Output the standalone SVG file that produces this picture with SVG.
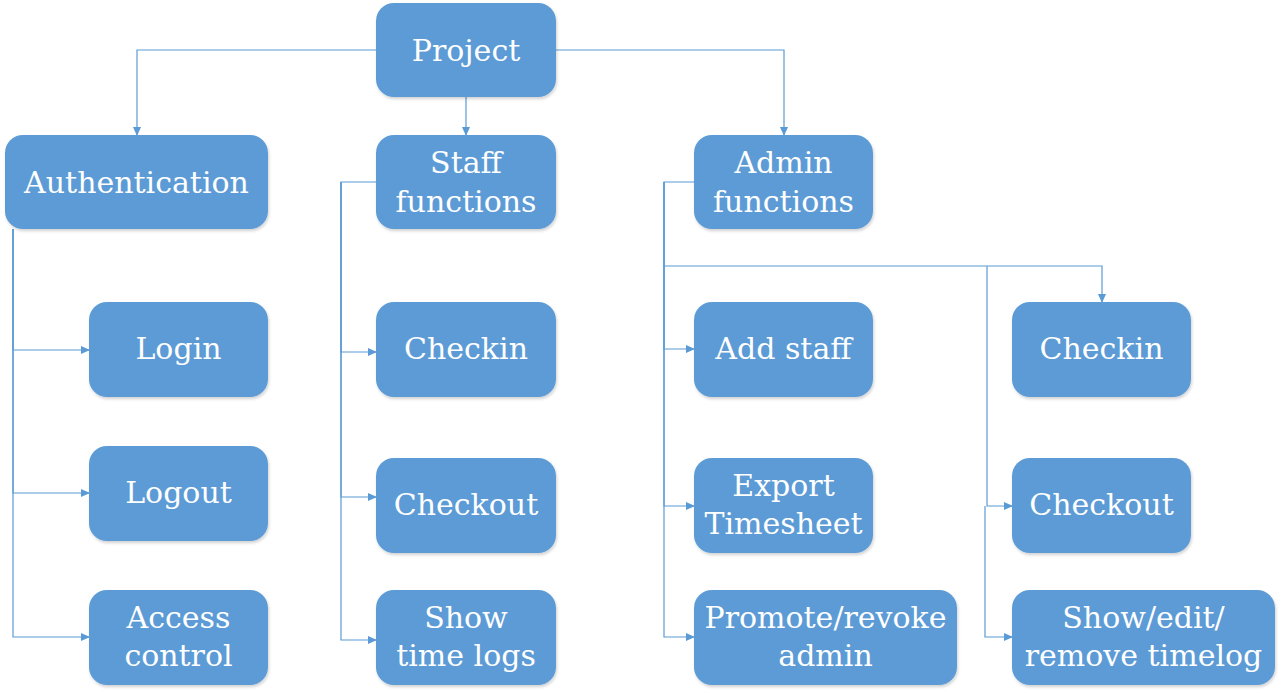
<svg xmlns="http://www.w3.org/2000/svg" width="1281" height="693" viewBox="0 0 1281 693">
<style>
.box{fill:#5B9BD5;filter:url(#sh)}
.t{font-family:"DejaVu Serif",serif;font-size:30px;fill:#fff;text-anchor:middle}
.c{fill:none;stroke:#5B9BD5;stroke-width:1.2;marker-end:url(#ah)}
</style>
<defs>
<filter id="sh" x="-10%" y="-10%" width="120%" height="130%">
<feDropShadow dx="1" dy="2" stdDeviation="1.5" flood-color="#000" flood-opacity="0.18"/>
</filter>
<marker id="ah" markerWidth="9" markerHeight="8" refX="8" refY="4" orient="auto" markerUnits="userSpaceOnUse">
<path d="M0,0 L9,4 L0,8 Z" fill="#5B9BD5"/>
</marker>
</defs>
<rect width="1281" height="693" fill="#fff"/>
<g id="connectors">
<path class="c" d="M376,50 H137 V135"/>
<path class="c" d="M466,97 V135"/>
<path class="c" d="M556,50 H784 V135"/>
<path class="c" d="M13,229 V350 H89"/>
<path class="c" d="M13,229 V493 H89"/>
<path class="c" d="M13,229 V637 H89"/>
<path class="c" d="M376,182 H341 V352 H376"/>
<path class="c" d="M341,182 V497 H376"/>
<path class="c" d="M341,182 V640 H376"/>
<path class="c" d="M694,182 H664 V349 H694"/>
<path class="c" d="M664,182 V506 H694"/>
<path class="c" d="M664,182 V637 H694"/>
<path class="c" d="M664,266 H1102 V302"/>
<path class="c" d="M987,266 V506 H1012"/>
<path class="c" d="M985,506 V637 H1012"/>
</g>
<g id="project"><rect class="box" x="376" y="3" width="180" height="94" rx="18"/><text class="t" x="466" y="61">Project</text></g>
<g id="authentication"><rect class="box" x="5" y="135" width="263" height="94" rx="18"/><text class="t" x="136.5" y="193">Authentication</text></g>
<g id="staff"><rect class="box" x="376" y="135" width="180" height="94" rx="18"/><text class="t" x="466" y="173">Staff</text><text class="t" x="466" y="212">functions</text></g>
<g id="admin"><rect class="box" x="694" y="135" width="179" height="94" rx="18"/><text class="t" x="783.5" y="173">Admin</text><text class="t" x="783.5" y="212">functions</text></g>
<g id="login"><rect class="box" x="89" y="302" width="179" height="95" rx="18"/><text class="t" x="178.5" y="359">Login</text></g>
<g id="logout"><rect class="box" x="89" y="446" width="179" height="95" rx="18"/><text class="t" x="178.5" y="503">Logout</text></g>
<g id="access"><rect class="box" x="89" y="590" width="179" height="95" rx="18"/><text class="t" x="178.5" y="628">Access</text><text class="t" x="178.5" y="666">control</text></g>
<g id="staff-checkin"><rect class="box" x="376" y="302" width="180" height="95" rx="18"/><text class="t" x="466" y="359">Checkin</text></g>
<g id="staff-checkout"><rect class="box" x="376" y="458" width="180" height="95" rx="18"/><text class="t" x="466" y="515">Checkout</text></g>
<g id="show-logs"><rect class="box" x="376" y="590" width="180" height="95" rx="18"/><text class="t" x="466" y="628">Show</text><text class="t" x="466" y="666">time logs</text></g>
<g id="add-staff"><rect class="box" x="694" y="302" width="179" height="95" rx="18"/><text class="t" x="783.5" y="359">Add staff</text></g>
<g id="export"><rect class="box" x="694" y="458" width="179" height="95" rx="18"/><text class="t" x="783.5" y="496">Export</text><text class="t" x="783.5" y="534">Timesheet</text></g>
<g id="promote"><rect class="box" x="694" y="590" width="263" height="95" rx="18"/><text class="t" x="825.5" y="628">Promote/revoke</text><text class="t" x="825.5" y="666">admin</text></g>
<g id="admin-checkin"><rect class="box" x="1012" y="302" width="179" height="95" rx="18"/><text class="t" x="1101.5" y="359">Checkin</text></g>
<g id="admin-checkout"><rect class="box" x="1012" y="458" width="179" height="95" rx="18"/><text class="t" x="1101.5" y="515">Checkout</text></g>
<g id="show-edit"><rect class="box" x="1012" y="590" width="263" height="95" rx="18"/><text class="t" x="1143.5" y="628">Show/edit/</text><text class="t" x="1143.5" y="666">remove timelog</text></g>
</svg>
